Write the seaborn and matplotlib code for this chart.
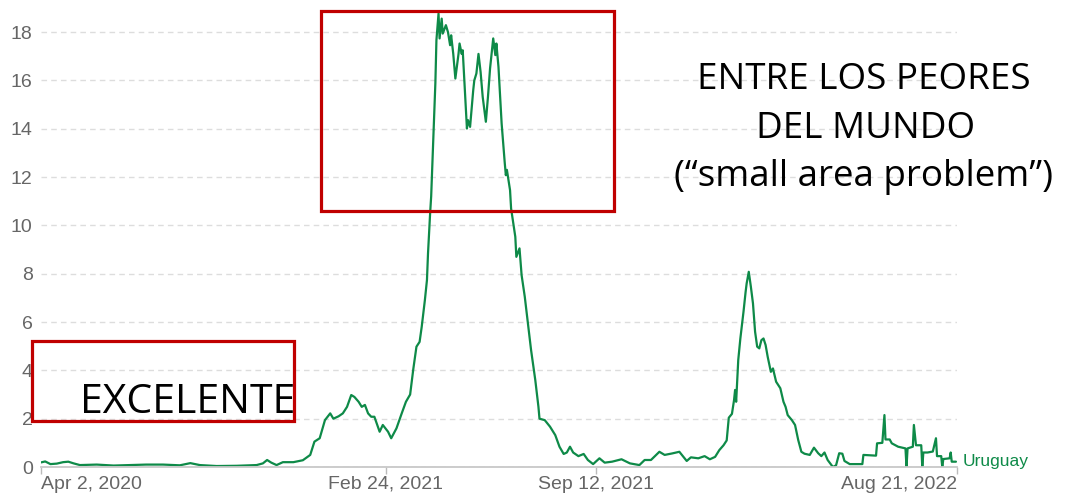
import matplotlib
matplotlib.use("Agg")
import matplotlib.pyplot as plt
from matplotlib.patches import Rectangle
import pandas as pd
import seaborn as sns

country = "Uruguay"

dates = [
    "2020-04-02", "2020-04-06", "2020-04-11", "2020-04-17", "2020-04-23", "2020-04-28",
    "2020-05-03", "2020-05-09", "2020-05-25", "2020-06-10", "2020-06-26", "2020-07-11",
    "2020-07-27", "2020-08-12", "2020-08-22", "2020-08-31", "2020-09-16", "2020-10-05",
    "2020-10-24", "2020-10-30", "2020-11-03", "2020-11-07", "2020-11-12", "2020-11-18",
    "2020-11-28", "2020-12-07", "2020-12-14", "2020-12-18", "2020-12-23", "2020-12-28",
    "2021-01-02", "2021-01-05", "2021-01-10", "2021-01-14", "2021-01-18", "2021-01-22",
    "2021-01-25", "2021-01-29", "2021-02-01", "2021-02-04", "2021-02-07", "2021-02-10",
    "2021-02-13", "2021-02-18", "2021-02-21", "2021-02-26", "2021-03-01", "2021-03-06",
    "2021-03-11", "2021-03-15", "2021-03-19", "2021-03-22", "2021-03-25", "2021-03-28",
    "2021-03-30", "2021-04-02", "2021-04-04", "2021-04-05", "2021-04-07", "2021-04-08",
    "2021-04-10", "2021-04-12", "2021-04-13", "2021-04-15", "2021-04-16", "2021-04-18",
    "2021-04-19", "2021-04-22", "2021-04-24", "2021-04-26", "2021-04-27", "2021-04-29",
    "2021-05-01", "2021-05-04", "2021-05-05", "2021-05-07", "2021-05-08", "2021-05-12",
    "2021-05-13", "2021-05-15", "2021-05-18", "2021-05-19", "2021-05-21", "2021-05-23",
    "2021-05-25", "2021-05-27", "2021-05-30", "2021-06-01", "2021-06-03", "2021-06-06",
    "2021-06-08", "2021-06-09", "2021-06-11", "2021-06-14", "2021-06-17", "2021-06-18",
    "2021-06-19", "2021-06-22", "2021-06-23", "2021-06-27", "2021-06-28", "2021-07-01",
    "2021-07-03", "2021-07-06", "2021-07-09", "2021-07-12", "2021-07-16", "2021-07-19",
    "2021-07-20", "2021-07-25", "2021-07-30", "2021-08-04", "2021-08-08", "2021-08-12",
    "2021-08-15", "2021-08-18", "2021-08-21", "2021-08-26", "2021-08-31", "2021-09-04",
    "2021-09-09", "2021-09-15", "2021-09-20", "2021-09-27", "2021-10-06", "2021-10-14",
    "2021-10-23", "2021-10-28", "2021-11-03", "2021-11-11", "2021-11-16", "2021-11-23",
    "2021-11-30", "2021-12-07", "2021-12-11", "2021-12-18", "2021-12-24", "2021-12-29",
    "2022-01-03", "2022-01-07", "2022-01-11", "2022-01-14", "2022-01-16", "2022-01-19",
    "2022-01-21", "2022-01-22", "2022-01-23", "2022-01-25", "2022-01-27", "2022-01-30",
    "2022-02-01", "2022-02-02", "2022-02-04", "2022-02-06", "2022-02-08", "2022-02-10",
    "2022-02-12", "2022-02-14", "2022-02-16", "2022-02-18", "2022-02-20", "2022-02-22",
    "2022-02-25", "2022-02-27", "2022-03-02", "2022-03-06", "2022-03-09", "2022-03-11",
    "2022-03-13", "2022-03-17", "2022-03-20", "2022-03-23", "2022-03-26", "2022-03-29",
    "2022-04-03", "2022-04-07", "2022-04-11", "2022-04-14", "2022-04-17", "2022-04-20",
    "2022-04-25", "2022-04-28", "2022-05-01", "2022-05-04", "2022-05-06", "2022-05-11",
    "2022-05-23", "2022-05-24", "2022-06-05", "2022-06-06", "2022-06-11", "2022-06-13",
    "2022-06-14", "2022-06-18", "2022-06-20", "2022-06-26", "2022-07-03", "2022-07-04",
    "2022-07-05", "2022-07-10", "2022-07-11", "2022-07-13", "2022-07-18", "2022-07-19",
    "2022-07-20", "2022-07-24", "2022-07-29", "2022-08-01", "2022-08-02", "2022-08-06",
    "2022-08-07", "2022-08-08", "2022-08-14", "2022-08-15", "2022-08-16", "2022-08-20",
]

deaths_per_million = [
    0.19, 0.23, 0.12, 0.14, 0.20, 0.22,
    0.15, 0.08, 0.10, 0.06, 0.08, 0.10,
    0.10, 0.07, 0.16, 0.08, 0.04, 0.05,
    0.08, 0.15, 0.29, 0.18, 0.08, 0.20,
    0.20, 0.28, 0.50, 1.05, 1.19, 1.94,
    2.22, 2.00, 2.10, 2.22, 2.49, 2.98,
    2.90, 2.70, 2.49, 2.57, 2.22, 2.08,
    2.08, 1.46, 1.74, 1.46, 1.19, 1.60,
    2.22, 2.70, 3.00, 4.05, 4.98, 5.18,
    5.80, 6.90, 7.74, 8.84, 10.50, 11.20,
    13.50, 15.90, 17.67, 18.77, 17.74, 18.56,
    17.94, 18.29, 18.00, 17.46, 17.87, 17.10,
    16.08, 17.10, 17.53, 17.10, 17.25, 14.01,
    14.36, 14.08, 15.60, 16.00, 16.29, 17.10,
    16.35, 15.32, 14.29, 15.32, 16.50, 17.74,
    17.05, 17.53, 16.56, 14.22, 12.57, 12.08,
    12.30, 11.46, 10.70, 9.53, 8.70, 9.05,
    7.94, 7.05, 5.95, 4.84, 3.60, 2.49,
    2.00, 1.94, 1.67, 1.32, 0.84, 0.54,
    0.60, 0.84, 0.60, 0.45, 0.54, 0.29,
    0.12, 0.36, 0.18, 0.22, 0.32, 0.15,
    0.08, 0.29, 0.29, 0.63, 0.50, 0.56,
    0.63, 0.25, 0.40, 0.36, 0.45, 0.32,
    0.42, 0.70, 0.90, 1.10, 2.04, 2.20,
    2.77, 3.19, 2.70, 4.43, 5.32, 6.43,
    7.25, 7.60, 8.08, 7.46, 6.77, 5.60,
    4.98, 4.91, 5.25, 5.32, 5.05, 4.56,
    3.94, 4.08, 3.53, 3.26, 2.70, 2.49,
    2.15, 1.94, 1.74, 1.12, 0.63, 0.55,
    0.50, 0.80, 0.57, 0.45, 0.60, 0.29,
    0.00, 0.07, 0.57, 0.55, 0.25, 0.12,
    0.12, 0.50, 0.47, 0.98, 1.00, 2.15,
    1.14, 1.14, 0.98, 0.84, 0.77, 0.00,
    0.77, 0.84, 1.74, 0.90, 0.90, 0.00,
    0.60, 0.60, 0.64, 1.19, 0.45, 0.45,
    0.00, 0.33, 0.36, 0.60, 0.22, 0.22,
]

tick_dates = ["2020-04-02", "2021-02-24", "2021-09-12", "2022-08-21"]
tick_labels = ["Apr 2, 2020", "Feb 24, 2021", "Sep 12, 2021", "Aug 21, 2022"]
y_ticks = [0, 2, 4, 6, 8, 10, 12, 14, 16, 18]

title_right = ["ENTRE LOS PEORES", "DEL MUNDO", "(\u201csmall area problem\u201d)"]
title_left = "EXCELENTE"

GREEN = "#0e8a48"
RED = "#c00000"
W, H = 1065, 494

sns.set_style("white")
plt.rcParams["font.family"] = ["Liberation Sans", "DejaVu Sans"]

fig = plt.figure(figsize=(W / 100, H / 100), dpi=100)
ax = fig.add_axes([41 / W, 1 - 467 / H, (957 - 41) / W, (467 - 8) / H])

df = pd.DataFrame({"date": pd.to_datetime(dates), "value": deaths_per_million})
sns.lineplot(data=df, x="date", y="value", ax=ax, color=GREEN, linewidth=1.6)

ax.set_xlim(pd.Timestamp(tick_dates[0]), pd.Timestamp(tick_dates[-1]))
ax.set_ylim(0, 19)
ax.set_xlabel("")
ax.set_ylabel("")

ax.set_yticks(y_ticks)
ax.set_yticklabels([str(v) for v in y_ticks])
ax.yaxis.grid(True, linestyle=(0, (4, 3)), color="#dddddd", linewidth=1.0)
ax.xaxis.grid(False)

ax.set_xticks(pd.to_datetime(tick_dates))
ax.set_xticklabels(tick_labels)
xt = ax.get_xticklabels()
xt[0].set_ha("left")
xt[-1].set_ha("right")

for s in ["top", "right", "left"]:
    ax.spines[s].set_visible(False)
ax.spines["bottom"].set_color("#c8c8c8")
ax.spines["bottom"].set_linewidth(1.3)

ax.tick_params(axis="x", length=5, width=1, color="#bbbbbb", labelcolor="#666666",
               labelsize=14, pad=1.2, bottom=True)
ax.tick_params(axis="y", length=0, labelcolor="#666666", labelsize=14, pad=6)

ax.annotate(country, xy=(df["date"].iloc[-1], df["value"].iloc[-1]),
            xytext=(5, 0), textcoords="offset points", va="center", ha="left",
            color=GREEN, fontsize=12.5, annotation_clip=False)

# annotation boxes
fig.add_artist(Rectangle((321 / W, 1 - 211 / H), (614 - 321) / W, (211 - 11) / H,
                         transform=fig.transFigure, fill=False, edgecolor=RED, linewidth=2.3))
fig.add_artist(Rectangle((32 / W, 1 - 421 / H), (294 - 32) / W, (421 - 341) / H,
                         transform=fig.transFigure, fill=False, edgecolor=RED, linewidth=2.3))

for line, xc, yb in zip(title_right, [864, 866, 864], [89, 138, 186]):
    fig.text(xc / W, 1 - yb / H, line, ha="center", va="baseline",
             fontsize=26.5, family=["Open Sans", "DejaVu Sans"], color="black")
fig.text(80 / W, 1 - 413 / H, title_left, ha="left", va="baseline", fontsize=29.5,
         family=["Open Sans", "DejaVu Sans"], color="black")

fig.savefig("out.png", dpi=100)
